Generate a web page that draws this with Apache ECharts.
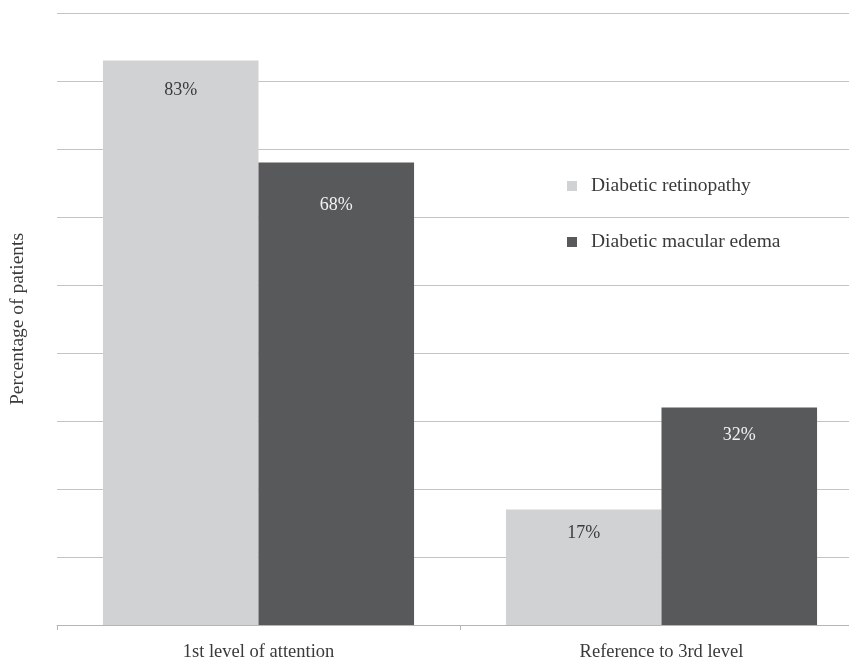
<!DOCTYPE html>
<html><head><meta charset="utf-8">
<script src="https://cdn.jsdelivr.net/npm/echarts@6/dist/echarts.min.js"></script>
<style>html,body{margin:0;padding:0;background:#fff;overflow:hidden}#c{width:863px;height:661px}</style>
</head><body><div id="c"></div>
<script>
const categories = ['1st level of attention', 'Reference to 3rd level'];
const retinopathy = [83, 17];
const macularEdema = [68, 32];
const seriesNames = ['Diabetic retinopathy', 'Diabetic macular edema'];
// label offsets below the bar top (layout only)
const retinopathyLabelGap = [21, 15];
const macularLabelGap = [34, 19];

const FONT = '"Liberation Serif", "DejaVu Serif", serif';
const TXT = '#3a3a3a';
function withLabel(vals, gaps) {
  return vals.map((v, i) => ({ value: v, label: { distance: gaps[i] } }));
}
const chart = echarts.init(document.getElementById('c'));
chart.setOption({
  animation: false,
  textStyle: { fontFamily: FONT },
  grid: { left: 57, right: 0, top: 13, bottom: 36, containLabel: false, outerBoundsMode: 'none' },
  legend: {
    orient: 'vertical', left: 562, top: 171, itemWidth: 10, itemHeight: 10, itemGap: 36,
    icon: 'rect',
    textStyle: { fontFamily: FONT, fontSize: 19.5, color: TXT, padding: [0, 0, 0, 9] },
    data: seriesNames
  },
  xAxis: {
    type: 'category', data: categories,
    axisLine: { lineStyle: { color: '#b5b5b5', width: 1 } },
    axisTick: { show: true, length: 5, lineStyle: { color: '#b5b5b5' } },
    axisLabel: { fontFamily: FONT, fontSize: 18.5, color: TXT, margin: 18 }
  },
  yAxis: {
    type: 'value', min: 0, max: 90, interval: 10,
    name: 'Percentage of patients', nameLocation: 'middle', nameGap: 29,
    nameTextStyle: { fontFamily: FONT, fontSize: 19.5, color: TXT },
    axisLabel: { show: false }, axisLine: { show: false }, axisTick: { show: false },
    splitLine: { lineStyle: { color: '#c4c4c4', width: 1 } }
  },
  series: [
    { name: seriesNames[0], type: 'bar', data: withLabel(retinopathy, retinopathyLabelGap), barGap: '0%', barCategoryGap: '22.8%',
      itemStyle: { color: '#d1d2d4' },
      label: { show: true, position: 'insideTop', formatter: '{c}%', fontFamily: FONT, fontSize: 18, color: TXT } },
    { name: seriesNames[1], type: 'bar', data: withLabel(macularEdema, macularLabelGap), barGap: '0%', barCategoryGap: '22.8%',
      itemStyle: { color: '#58595b' },
      label: { show: true, position: 'insideTop', formatter: '{c}%', fontFamily: FONT, fontSize: 18, color: '#f2f2f2' } }
  ]
});
</script></body></html>
